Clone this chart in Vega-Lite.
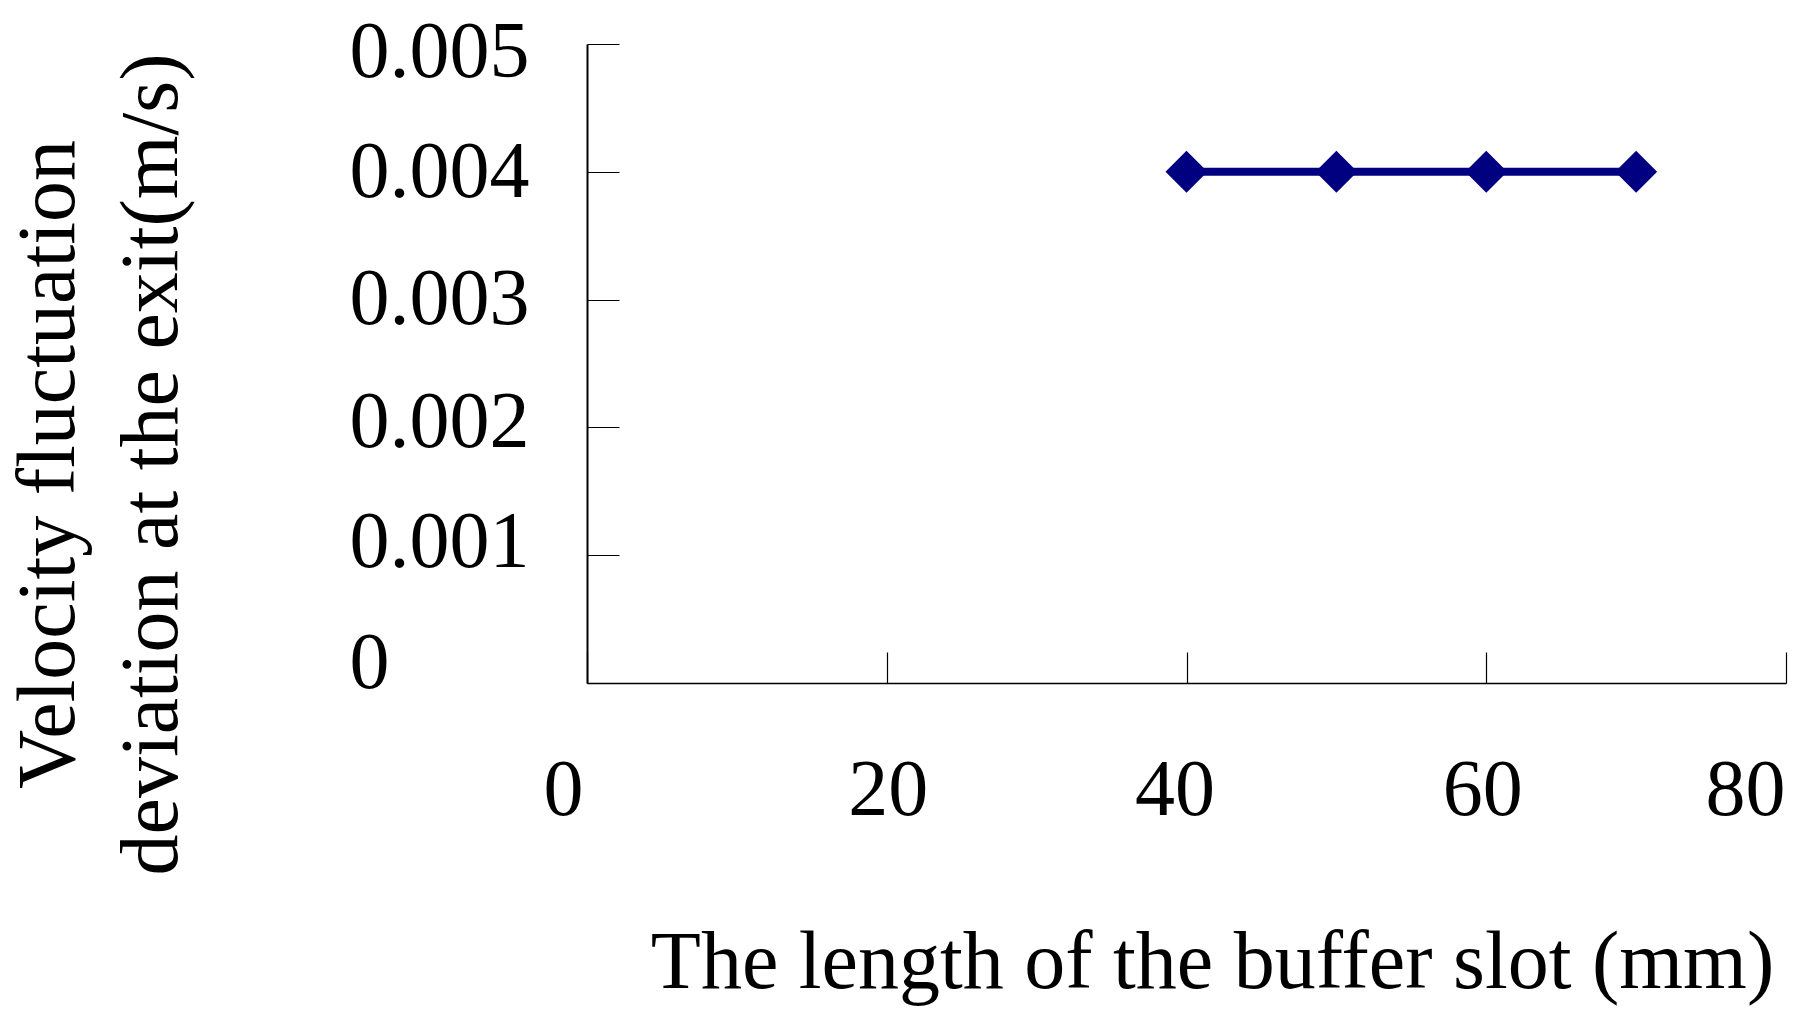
{
  "$schema": "https://vega.github.io/schema/vega-lite/v6.json",
  "autosize": "none",
  "width": 1199,
  "height": 639,
  "padding": {"left": 587, "top": 44, "right": 20, "bottom": 340},
  "background": "white",
  "config": {
    "view": {"stroke": null},
    "font": "Liberation Serif"
  },
  "data": {"values": [
    {"length": 40, "deviation": 0.004},
    {"length": 50, "deviation": 0.004},
    {"length": 60, "deviation": 0.004},
    {"length": 70, "deviation": 0.004}
  ]},
  "encoding": {
    "x": {
      "field": "length", "type": "quantitative",
      "scale": {"domain": [0, 80], "nice": false, "zero": false},
      "axis": {
        "values": [0, 20, 40, 60, 80],
        "title": "The length of the buffer slot (mm)",
        "titleFont": "Liberation Serif", "titleFontSize": 82, "titleFontWeight": "normal", "titleColor": "black",
        "titleX": 625, "titleY": 279, "titleAlign": "center", "titleBaseline": "middle",
        "labelFont": "Liberation Serif", "labelFontSize": 80, "labelColor": "black",
        "labelBaseline": "middle", "labelPadding": 138, "labelLimit": 0,
        "labelFlush": false, "labelOverlap": false, "labelBound": false,
        "tickSize": -31, "tickColor": "black", "tickWidth": 1.2,
        "domainColor": "black", "domainWidth": 1.5,
        "grid": false,
        "labelOffset": {
          "condition": [
            {"test": "datum.value < 10", "value": -24},
            {"test": "datum.value < 30", "value": 1},
            {"test": "datum.value < 50", "value": -12},
            {"test": "datum.value < 70", "value": -4}
          ],
          "value": -41
        }
      }
    },
    "y": {
      "field": "deviation", "type": "quantitative",
      "scale": {"domain": [0, 0.005], "nice": false, "zero": true},
      "axis": {
        "values": [0, 0.001, 0.002, 0.003, 0.004, 0.005],
        "labelExpr": "datum.value == 0 ? '0' : format(datum.value, '.3f')",
        "title": ["Velocity fluctuation", "deviation at the exit(m/s)"],
        "titleFont": "Liberation Serif", "titleFontSize": 82, "titleFontWeight": "normal", "titleColor": "black",
        "titleAngle": -90, "titleX": -539, "titleY": 420, "titleAlign": "center", "titleBaseline": "middle",
        "titleLineHeight": 103,
        "labelFont": "Liberation Serif", "labelFontSize": 80, "labelColor": "black",
        "labelAlign": "left", "labelBaseline": "middle", "labelPadding": 270, "labelLimit": 0,
        "labelFlush": false, "labelOverlap": false, "labelBound": false,
        "tickSize": -32, "tickColor": "black", "tickWidth": 1.2,
        "domainColor": "black", "domainWidth": 2,
        "grid": false,
        "labelOffset": {
          "condition": [
            {"test": "datum.value < 0.0005", "value": -20},
            {"test": "datum.value < 0.0015", "value": -13},
            {"test": "datum.value < 0.0025", "value": -5},
            {"test": "datum.value < 0.0035", "value": 0},
            {"test": "datum.value < 0.0045", "value": 1}
          ],
          "value": 8
        }
      }
    }
  },
  "layer": [
    {"mark": {"type": "line", "color": "#000080", "strokeWidth": 8}},
    {"mark": {"type": "point", "shape": "diamond", "filled": true, "color": "#000080", "size": 1764, "opacity": 1}}
  ]
}
